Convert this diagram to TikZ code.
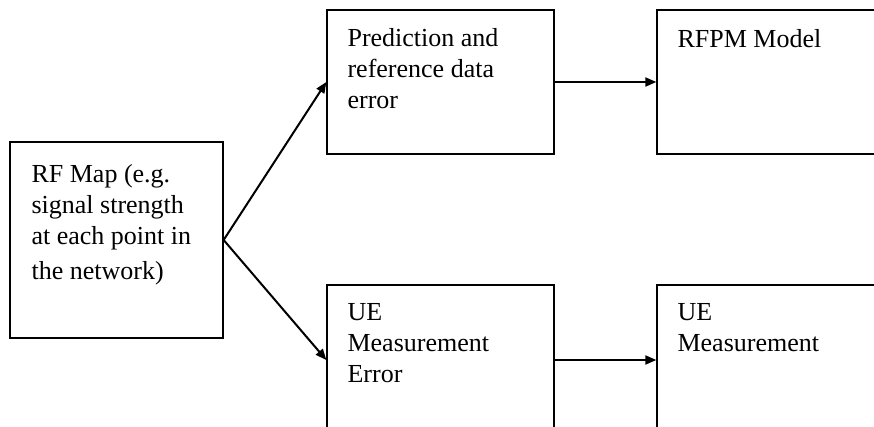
\documentclass[tikz,border=0pt]{standalone}
\usepackage{fontspec}
\setmainfont{Liberation Serif}
\usetikzlibrary{arrows.meta}

\tikzset{
  block/.style={draw, line width=1.3pt, inner sep=0pt, minimum width=227pt, minimum height=150pt},
  blocktext/.style={anchor=north west, align=left, inner sep=0pt, font=\fontsize{26}{31}\selectfont},
  link/.style={line width=2pt, -{Triangle[length=11pt,width=9pt]}}
}

\begin{document}
\begin{tikzpicture}[x=1pt,y=-1pt]
    \useasboundingbox (0,0) rectangle (874,427);
    \clip (0,0) rectangle (874,427);

    \node[block, minimum width=213pt, minimum height=196pt] (map) at (116.5,240) {};
    \node[block, minimum height=144pt] (pred) at (440.5,82) {};
    \node[block, minimum height=144pt] (rfpm) at (770.5,82) {};
    \node[block] (ueerr) at (440.5,360) {};
    \node[block] (uemeas) at (770.5,360) {};

    \node[blocktext] (maptext) at ([shift={(22,23)}]map.north west)
        {RF Map (e.g.\\ signal strength\\ at each point in\\[4pt] the network)};
    \node[blocktext] (predtext) at ([shift={(21,19)}]pred.north west)
        {Prediction and\\ reference data\\ error};
    \node[blocktext] (rfpmtext) at ([shift={(21,20)}]rfpm.north west) {RFPM Model};
    \node[blocktext] (ueerrtext) at ([shift={(21,19)}]ueerr.north west)
        {UE\\ Measurement\\ Error};
    \node[blocktext] (uemeastext) at ([shift={(21,19)}]uemeas.north west)
        {UE\\ Measurement};

    \draw[link] (map.east) -- (pred.west);
    \draw[link] (map.east) -- (ueerr.west);
    \draw[link] (pred.east) -- (rfpm.west);
    \draw[link] (ueerr.east) -- (uemeas.west);
\end{tikzpicture}
\end{document}
